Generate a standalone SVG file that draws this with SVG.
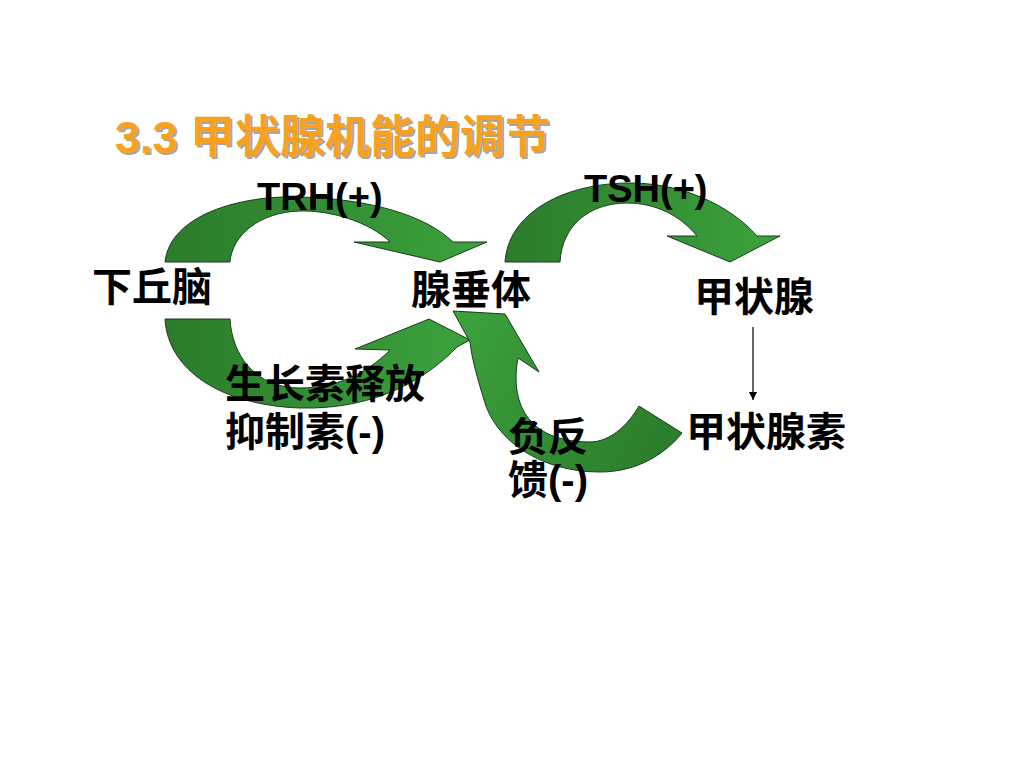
<svg xmlns="http://www.w3.org/2000/svg" width="1024" height="768" viewBox="0 0 1024 768">
<defs>
<style>
.lbl{font-family:"Liberation Sans","Noto Sans CJK SC",sans-serif;font-weight:bold;font-size:40px;fill:#000}
.lat{font-family:"Liberation Sans","Noto Sans CJK SC",sans-serif;font-weight:bold;font-size:38px;fill:#000}
.arr{stroke:#1c3d1c;stroke-width:1;stroke-linejoin:miter}
.title{font-family:"Liberation Sans","Noto Sans CJK SC",sans-serif;font-weight:bold;font-size:45px}
</style>
<linearGradient id="g1" gradientUnits="userSpaceOnUse" x1="165" y1="0" x2="487" y2="0"><stop offset="0" stop-color="#2b7b2b"/><stop offset="1" stop-color="#3ca23c"/></linearGradient>
<linearGradient id="g2" gradientUnits="userSpaceOnUse" x1="165" y1="0" x2="470" y2="0"><stop offset="0" stop-color="#2b7b2b"/><stop offset="1" stop-color="#3ca23c"/></linearGradient>
<linearGradient id="g3" gradientUnits="userSpaceOnUse" x1="505" y1="0" x2="780" y2="0"><stop offset="0" stop-color="#2b7b2b"/><stop offset="1" stop-color="#3ca23c"/></linearGradient>
<linearGradient id="g4" gradientUnits="userSpaceOnUse" x1="682" y1="440" x2="453" y2="311"><stop offset="0" stop-color="#2b7b2b"/><stop offset="1" stop-color="#3ca23c"/></linearGradient>
<marker id="ah" viewBox="0 0 10 10" refX="10" refY="5" markerWidth="8" markerHeight="8" markerUnits="userSpaceOnUse" orient="auto"><path d="M0,0 L10,5 L0,10 Z" fill="#000"/></marker>
</defs>
<rect width="1024" height="768" fill="#fff"/>
<g id="title">
<text class="title" x="117" y="155" fill="#a6a6a6">3.3 甲状腺机能的调节</text>
<text class="title" x="115" y="153" fill="#f7a11e">3.3 甲状腺机能的调节</text>
</g>
<g id="connectors">
<path id="arrow-trh" class="arr" fill="url(#g1)" d="M165,262 C170,215 240,195 300,197 C370,199 425,215 453,242 L487,242 L440,262 L354,242 L390,242 C370,222 330,210 300,211 C260,212 232,235 230,262 Z"/>
<path id="arrow-ghrih" class="arr" fill="url(#g2)" d="M165,319 C168,370 220,405 300,408 C380,410 430,375 457,347 L470,340 L429,319 L355,349 L390,350 C365,375 335,388 300,388 C255,388 232,355 230,319 Z"/>
<path id="arrow-tsh" class="arr" fill="url(#g3)" d="M505,262 C508,215 560,184 627,183 C680,182 730,205 757,236 L780,236 L730,262 L667,236 L697,236 C680,215 655,203 627,203 C590,203 562,225 560,262 Z"/>
<path id="arrow-feedback" class="arr" fill="url(#g4)" d="M682,433 C660,460 630,472 600,472 C540,472 495,440 484,400 C478,380 472,360 470,342 L453,311 L505,314 L539,372 L518,358 C510,400 525,442 590,442 C610,442 628,425 639,406 Z"/>
<line id="arrow-thyroid" x1="753" y1="327" x2="753" y2="400" stroke="#000" stroke-width="1.2" marker-end="url(#ah)"/>
</g>
<g id="node-hypothalamus"><text class="lbl" x="92" y="301">下丘脑</text></g>
<g id="node-pituitary"><text class="lbl" x="411" y="304">腺垂体</text></g>
<g id="node-thyroid"><text class="lbl" x="694" y="311">甲状腺</text></g>
<g id="node-thyroxine"><text class="lbl" x="686" y="446">甲状腺素</text></g>
<g id="label-trh"><text class="lat" x="257" y="210">TRH(+)</text></g>
<g id="label-tsh"><text class="lat" x="584" y="202">TSH(+)</text></g>
<g id="label-ghrih">
<text class="lbl" x="225" y="398">生长素释放</text>
<text class="lbl" x="225" y="446">抑制素(-)</text>
</g>
<g id="label-feedback">
<text class="lbl" x="508" y="451">负反</text>
<text class="lbl" x="508" y="494">馈(-)</text>
</g>
</svg>
